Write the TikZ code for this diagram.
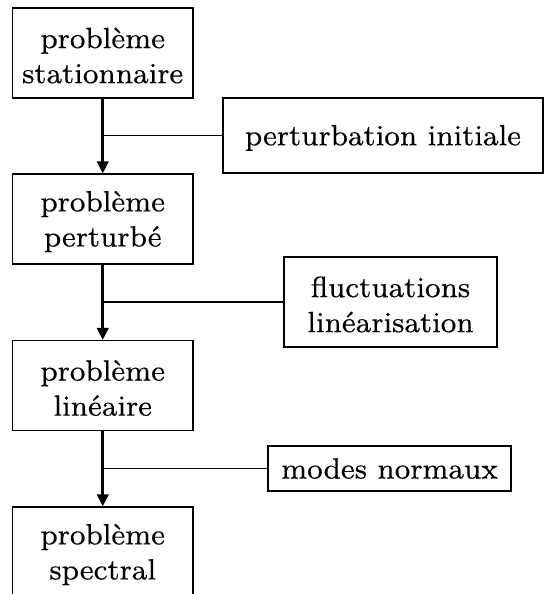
\documentclass[tikz,border=0pt]{standalone}
\usepackage{fontspec}
\newfontfamily\lmheavy{lmroman8-regular.otf}[FakeBold=0.25]
\usetikzlibrary{arrows.meta}
\newcommand{\toppad}{\rule{0pt}{7.1pt}}
\tikzset{
  thinbox/.style={draw, line width=0.4pt, inner sep=0pt, align=center, font=\lmheavy\fontsize{8.15}{9.75}\selectfont},
  bigbox/.style={thinbox, minimum width=50.14pt, minimum height=25pt},
  thickbox/.style={thinbox, line width=0.75pt},
  flow/.style={line width=0.7pt, -{Triangle[length=3.3pt,width=3.2pt]}},
  sidelink/.style={line width=0.4pt},
  thicklink/.style={line width=0.7pt},
}
\begin{document}
\begin{tikzpicture}[x=0.2778pt,y=-0.2778pt]
\useasboundingbox (0,0) rectangle (544,594);
\node[bigbox] (b1) at (102.75,53) {\toppad problème\\stationnaire};
\node[bigbox] (b2) at (102.75,219) {\toppad problème\\perturbé};
\node[bigbox] (b3) at (102.75,385.5) {\toppad problème\\linéaire};
\node[bigbox] (b4) at (102.75,552) {\toppad problème\\spectral};
\node[thinbox, minimum width=88.9pt, minimum height=20.83pt] (p1) at (383,135.5) {\rule{0pt}{7pt}perturbation initiale};
\node[thickbox, minimum width=59.17pt, minimum height=25pt] (p2) at (390.5,302) {\toppad fluctuations\\linéarisation};
\node[thinbox, minimum width=67.5pt, minimum height=12.5pt] (p3) at (389.5,468.5) {modes normaux};
\coordinate (j1) at (b1.south |- p1.west);
\coordinate (j2) at (b2.south |- p2.west);
\coordinate (j3) at (b3.south |- p3.west);
\draw[sidelink] (j1) -- (p1.west);
\draw[thicklink] (j2) -- (p2.west);
\draw[sidelink] (j3) -- (p3.west);
\draw[flow] (b1.south) -- (b2.north);
\draw[flow] (b2.south) -- (b3.north);
\draw[flow] (b3.south) -- (b4.north);
\end{tikzpicture}
\end{document}
